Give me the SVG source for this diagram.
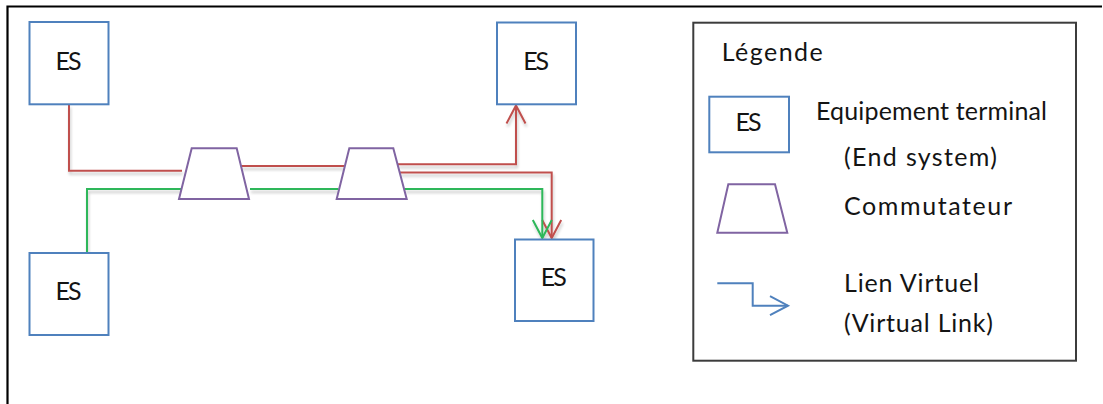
<svg xmlns="http://www.w3.org/2000/svg" width="1103" height="404" viewBox="0 0 1103 404">
  <style>
    .es { fill: #ffffff; stroke: #4F81BD; stroke-width: 2; }
    .sw { fill: #ffffff; stroke: #8064A2; stroke-width: 2; stroke-linejoin: miter; }
    .lbl { font-family: Lato, "Liberation Sans", sans-serif; font-size: 25px; fill: #141414; }
    .es-lbl { text-anchor: middle; }
    .vl { fill: none; stroke-width: 2; }
    .red { stroke: #C0504D; }
    .green { stroke: #2DB75A; }
    .blue { stroke: #4F81BD; }
  </style>
  <defs>
    <filter id="lineShadow" filterUnits="userSpaceOnUse" x="0" y="0" width="1103" height="404">
      <feGaussianBlur in="SourceAlpha" stdDeviation="1.6"/>
      <feOffset dx="1" dy="3" result="off"/>
      <feComponentTransfer>
        <feFuncA type="linear" slope="0.22"/>
      </feComponentTransfer>
      <feMerge>
        <feMergeNode/>
        <feMergeNode in="SourceGraphic"/>
      </feMerge>
    </filter>
    <marker id="arrowRed" markerUnits="userSpaceOnUse" markerWidth="24" markerHeight="24" viewBox="-20 -12 24 24" refX="0" refY="0" orient="auto">
      <path d="M-18,-9.5 L0,0 L-18,9.5" fill="none" stroke="#C0504D" stroke-width="2"/>
    </marker>
    <marker id="arrowGreen" markerUnits="userSpaceOnUse" markerWidth="24" markerHeight="24" viewBox="-20 -12 24 24" refX="0" refY="0" orient="auto">
      <path d="M-18,-9.5 L0,0 L-18,9.5" fill="none" stroke="#2DB75A" stroke-width="2"/>
    </marker>
    <marker id="arrowBlue" markerUnits="userSpaceOnUse" markerWidth="24" markerHeight="24" viewBox="-20 -12 24 24" refX="0" refY="0" orient="auto">
      <path d="M-18,-9.5 L0,0 L-18,9.5" fill="none" stroke="#4F81BD" stroke-width="2"/>
    </marker>
  </defs>

  <rect x="0" y="0" width="1103" height="404" fill="#ffffff"/>

  <!-- outer frame -->
  <path d="M7.5,404 V6.5 H1102" fill="none" stroke="#000000" stroke-width="2.2"/>

  <!-- virtual links -->
  <g id="connectors" filter="url(#lineShadow)">
    <!-- red VL: ES top-left to switches -->
    <path class="vl red" d="M69,104.5 V170.7 H182"/>
    <path class="vl red" d="M241,166 H344.5"/>
    <path class="vl red" d="M397.5,164.3 H516 V105.5" marker-end="url(#arrowRed)"/>
    <path class="vl red" d="M399.6,172.5 H551.7 V238" marker-end="url(#arrowRed)"/>
    <!-- green VL: ES bottom-left to ES bottom-right -->
    <path class="vl green" d="M87,253 V189 H181.5"/>
    <path class="vl green" d="M250,189 H338.5"/>
    <path class="vl green" d="M404.5,189 H542.3 V238" marker-end="url(#arrowGreen)"/>
  </g>

  <!-- end systems -->
  <g id="es-top-left">
    <rect class="es" x="29.5" y="22" width="79" height="82.3"/>
    <text class="lbl es-lbl" x="68.5" y="69.5" textLength="26" lengthAdjust="spacing">ES</text>
  </g>
  <g id="es-bottom-left">
    <rect class="es" x="29.5" y="253" width="79" height="82"/>
    <text class="lbl es-lbl" x="68.5" y="300" textLength="26" lengthAdjust="spacing">ES</text>
  </g>
  <g id="es-top-right">
    <rect class="es" x="497" y="22.5" width="79" height="81.8"/>
    <text class="lbl es-lbl" x="536.2" y="69.5" textLength="26" lengthAdjust="spacing">ES</text>
  </g>
  <g id="es-bottom-right">
    <rect class="es" x="515" y="239.5" width="78.5" height="81.5"/>
    <text class="lbl es-lbl" x="553.8" y="286" textLength="26" lengthAdjust="spacing">ES</text>
  </g>

  <!-- switches -->
  <g id="switch-1">
    <polygon class="sw" points="191.7,148.3 236.7,148.3 249,199 179,199"/>
  </g>
  <g id="switch-2">
    <polygon class="sw" points="349.3,148.3 393.3,148.3 406.7,199 336.7,199"/>
  </g>

  <!-- legend -->
  <g id="legend">
    <rect x="693.3" y="22.7" width="382.7" height="338" fill="none" stroke="#3c3c3c" stroke-width="2"/>
    <text class="lbl" x="721.7" y="60.7" textLength="101" lengthAdjust="spacing">Légende</text>
    <rect class="es" x="709.3" y="96.7" width="79.7" height="55.6"/>
    <text class="lbl es-lbl" x="748.5" y="130.7" textLength="26" lengthAdjust="spacing">ES</text>
    <text class="lbl" x="816" y="120" textLength="231" lengthAdjust="spacing">Equipement terminal</text>
    <text class="lbl" x="844" y="165.5" textLength="153" lengthAdjust="spacing">(End system)</text>
    <polygon class="sw" points="728.3,184.3 775,184.3 787.3,232.7 717.3,232.7"/>
    <text class="lbl" x="844" y="215" textLength="168" lengthAdjust="spacing">Commutateur</text>
    <path class="vl blue" d="M717.3,283.3 H752.7 V305.7 H788" marker-end="url(#arrowBlue)"/>
    <text class="lbl" x="844" y="291.7" textLength="135" lengthAdjust="spacing">Lien Virtuel</text>
    <text class="lbl" x="844" y="331.7" textLength="149" lengthAdjust="spacing">(Virtual Link)</text>
  </g>
</svg>
